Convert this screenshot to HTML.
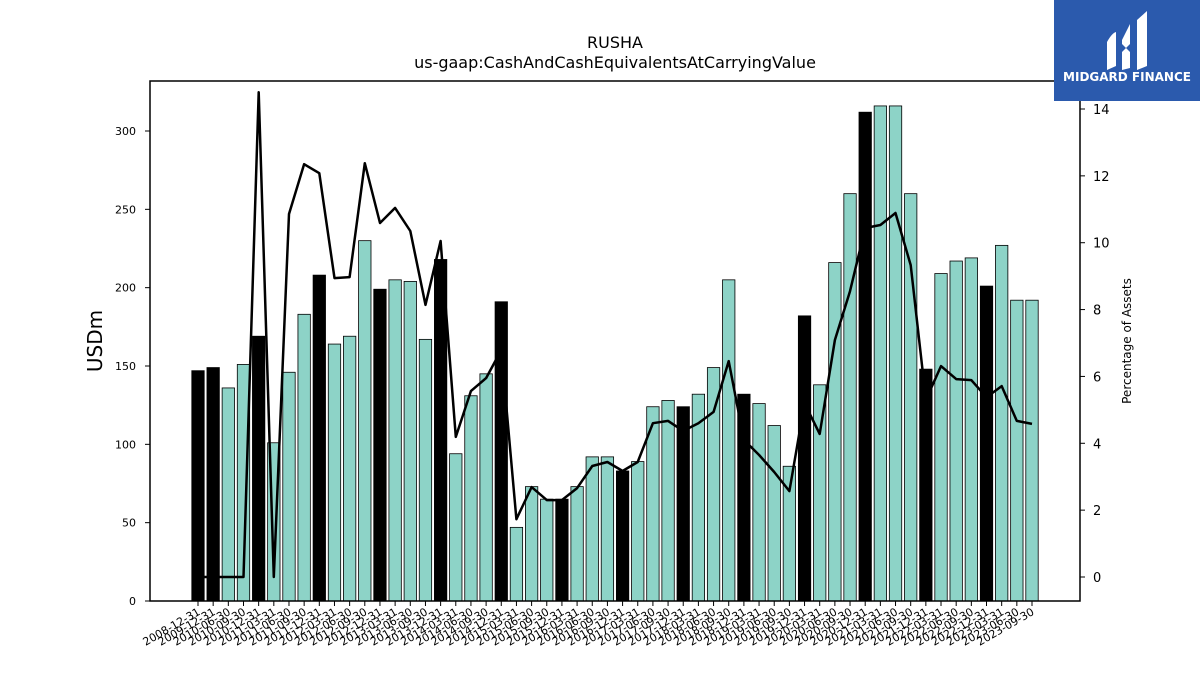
<!DOCTYPE html>
<html><head><meta charset="utf-8"><style>
body{margin:0;background:#fff;font-family:"Liberation Sans","DejaVu Sans",sans-serif}
svg text{font-family:"DejaVu Sans","Liberation Sans",sans-serif}
</style></head><body>
<svg id="chart" width="1200" height="675" xmlns="http://www.w3.org/2000/svg">
<rect width="1200" height="675" fill="#fff"/>
<text x="615" y="48" font-size="16" text-anchor="middle">RUSHA</text>
<text x="615" y="68" font-size="16" text-anchor="middle">us-gaap:CashAndCashEquivalentsAtCarryingValue</text>
<text transform="translate(102,341) rotate(-90)" font-size="20" text-anchor="middle">USDm</text>
<text transform="translate(1131,341) rotate(-90)" font-size="12" text-anchor="middle">Percentage of Assets</text>
<g id="bars"></g>
<g id="line"></g>
<g id="axes"></g>
<rect x="150" y="81" width="930" height="520" fill="none" stroke="#000" stroke-width="1.5"/>
<g>
<rect x="1054" y="0" width="146" height="101" fill="#2b5aad"/>
<path d="M1107 42 Q1112 33 1116 32 L1116 66 L1107 70 Z M1122 40 L1130 24 L1130 44 L1126 48 L1122 44 Z M1122 52 L1126 48 L1130 52 L1130 68 L1122 70 Z M1137 20 L1147 11 L1147 66 L1137 70 Z" fill="#fff"/>
<text x="1127" y="81" font-size="12" font-weight="bold" fill="#fff" text-anchor="middle" font-family="Liberation Sans">MIDGARD FINANCE</text>
</g>
</svg>
<script>
const categories=["2008-12-31","2009-12-31","2010-06-30","2010-09-30","2010-12-31","2011-03-31","2011-06-30","2011-09-30","2011-12-31","2012-03-31","2012-06-30","2012-09-30","2012-12-31","2013-03-31","2013-06-30","2013-09-30","2013-12-31","2014-03-31","2014-06-30","2014-09-30","2014-12-31","2015-03-31","2015-06-30","2015-09-30","2015-12-31","2016-03-31","2016-06-30","2016-09-30","2016-12-31","2017-03-31","2017-06-30","2017-09-30","2017-12-31","2018-03-31","2018-06-30","2018-09-30","2018-12-31","2019-03-31","2019-06-30","2019-09-30","2019-12-31","2020-03-31","2020-06-30","2020-09-30","2020-12-31","2021-03-31","2021-06-30","2021-09-30","2021-12-31","2022-03-31","2022-06-30","2022-09-30","2022-12-31","2023-03-31","2023-06-30","2023-09-30"];
const cashValues=[147,149,136,151,169,101,146,183,208,164,169,230,199,205,204,167,218,94,131,145,191,47,73,65,65,73,92,92,83,89,124,128,124,132,149,205,132,126,112,86,182,138,216,260,312,316,316,260,148,209,217,219,201,227,192,192];
const pctValues=[0,0,0,0,14.5,0,10.86,12.35,12.08,8.94,8.97,12.38,10.59,11.04,10.35,8.14,10.05,4.19,5.56,5.95,6.79,1.73,2.69,2.3,2.3,2.66,3.32,3.44,3.17,3.44,4.6,4.67,4.37,4.6,4.94,6.46,4.1,3.65,3.14,2.57,5.2,4.28,7.09,8.55,10.44,10.53,10.89,9.33,5.3,6.31,5.92,5.89,5.38,5.71,4.67,4.58];
const leftTicks=[0,50,100,150,200,250,300];
const rightTicks=[0,2,4,6,8,10,12,14];
const NS="http://www.w3.org/2000/svg";
const x0=198,step=(1032-198)/(categories.length-1),bw=12.4;
const xS=i=>x0+i*step;
const yL=v=>601-v*(470/300);
const yR=v=>577-v*(468/14);
function mk(t,a,p){const e=document.createElementNS(NS,t);for(const k in a)e.setAttribute(k,a[k]);p.appendChild(e);return e;}
const bars=document.getElementById('bars'),line=document.getElementById('line'),axes=document.getElementById('axes');
cashValues.forEach((v,i)=>{
 const yearEnd=categories[i].endsWith("12-31");
 const r=mk('rect',{x:xS(i)-bw/2,y:yL(v),width:bw,height:601-yL(v),fill:yearEnd?'#000':'#8dd3c7',stroke:'#000','stroke-width':0.8},bars);
 
 
});
const pts=pctValues.map((v,i)=>xS(i).toFixed(1)+','+yR(v).toFixed(1)).join(' ');
const pl=mk('polyline',{points:pts,fill:'none',stroke:'#000','stroke-width':2.5,'stroke-linejoin':'round'},line);


leftTicks.forEach(t=>{
 const y=yL(t);
 mk('line',{x1:145,x2:150,y1:y,y2:y,stroke:'#000'},axes);
 const tx=mk('text',{x:136,y:y+4,'font-size':11,'text-anchor':'end'},axes);tx.textContent=t;
 
 
});
rightTicks.forEach(t=>{
 const y=yR(t);
 mk('line',{x1:1080,x2:1085,y1:y,y2:y,stroke:'#000'},axes);
 const tx=mk('text',{x:1093,y:y+5,'font-size':13},axes);tx.textContent=t;
 
 
});
categories.forEach((c,i)=>{
 const x=xS(i);
 mk('line',{x1:x,x2:x,y1:601,y2:606,stroke:'#000'},axes);
 const tx=mk('text',{transform:`translate(${x+3},${614}) rotate(-30)`,'font-size':11,'text-anchor':'end'},axes);tx.textContent=c;
 
 
});
</script>
</body></html>
